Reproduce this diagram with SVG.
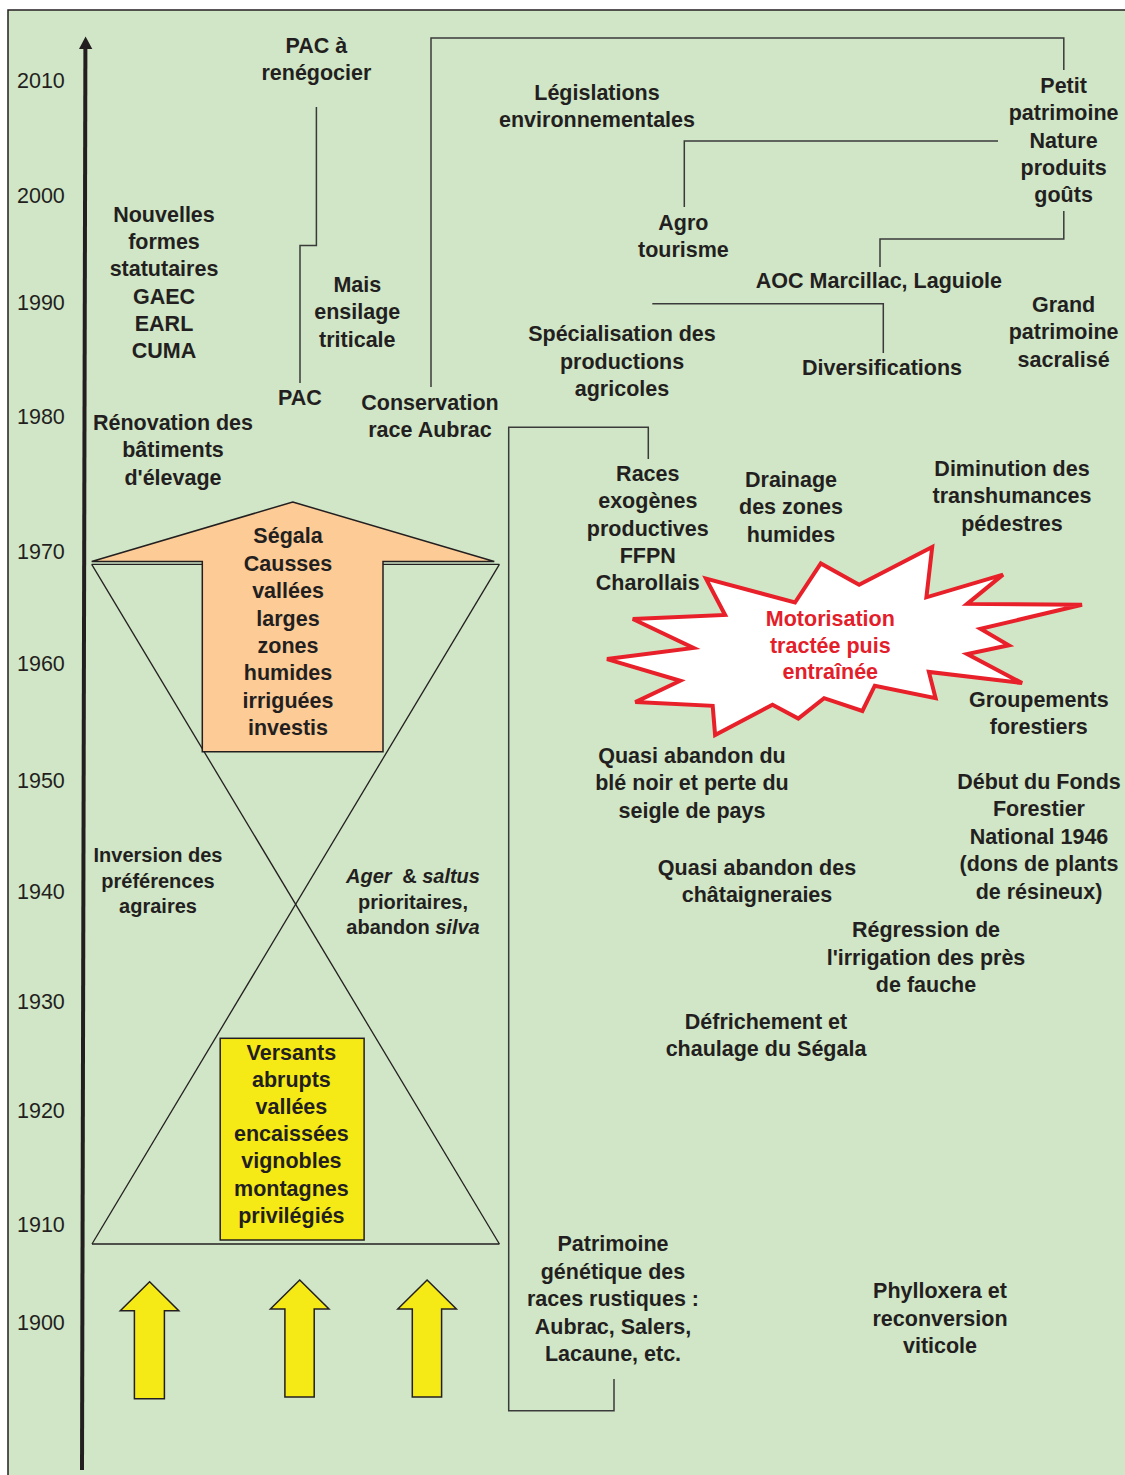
<svg xmlns="http://www.w3.org/2000/svg" width="1125" height="1475" viewBox="0 0 1125 1475">
<style>
text{font-family:"Liberation Sans",Arial,sans-serif;fill:#231f20}
.b{font-weight:bold;font-size:21.5px;text-anchor:middle}
.s{font-weight:bold;font-size:20px;text-anchor:middle}
.yr{font-size:21.5px}
.red{fill:#e3202a}
.i{font-style:italic}
.ln{fill:none;stroke:#3a3a3a;stroke-width:1.5}
.hg{fill:none;stroke:#231f20;stroke-width:1.3}
</style>
<rect x="0" y="0" width="1125" height="1475" fill="#ffffff"/>
<rect x="8" y="10" width="1130" height="1480" fill="#d0e6c6" stroke="#231f20" stroke-width="1.5"/>

<g id="axis">
<line x1="82" y1="1470" x2="85.4" y2="46" stroke="#231f20" stroke-width="4"/>
<polygon points="85.6,36.5 92.3,49 79,49" fill="#231f20"/>
<g id="years">
<text class="yr" x="17" y="88">2010</text>
<text class="yr" x="17" y="203">2000</text>
<text class="yr" x="17" y="310">1990</text>
<text class="yr" x="17" y="424">1980</text>
<text class="yr" x="17" y="559">1970</text>
<text class="yr" x="17" y="671">1960</text>
<text class="yr" x="17" y="788">1950</text>
<text class="yr" x="17" y="899">1940</text>
<text class="yr" x="17" y="1009">1930</text>
<text class="yr" x="17" y="1118">1920</text>
<text class="yr" x="17" y="1232">1910</text>
<text class="yr" x="17" y="1330">1900</text>
</g>
</g>

<g id="connectors">
<polyline class="ln" points="316.4,107 316.4,245.5 300,245.5 300,383"/>
<polyline class="ln" points="431,387 431,38 1063.8,38 1063.8,70"/>
<polyline class="ln" points="684.3,207 684.3,141 998,141"/>
<polyline class="ln" points="1063.8,211 1063.8,239 880,239 880,267"/>
<polyline class="ln" points="652.3,303.7 883.3,303.7 883.3,353"/>
<polyline class="ln" points="648.3,459 648.3,427.3 508.7,427.3 508.7,1410.7 614,1410.7 614,1379"/>
</g>

<g id="hourglass">
<line class="hg" x1="91.7" y1="564.3" x2="499.4" y2="564.3"/>
<line class="hg" x1="91.7" y1="564.3" x2="499.4" y2="1244"/>
<line class="hg" x1="499.4" y1="564.3" x2="92" y2="1244"/>
<line class="hg" x1="92" y1="1244" x2="499.4" y2="1244"/>
</g>

<g id="orange-arrow">
<polygon points="292.7,502 494.3,561.5 383,561.5 383,751.7 202.3,751.7 202.3,561.5 91.7,561.5" fill="#fccb96" stroke="#231f20" stroke-width="1.5"/>
<text class="b"><tspan x="288" y="543.3">Ségala</tspan><tspan x="288" y="570.7">Causses</tspan><tspan x="288" y="598.1">vallées</tspan><tspan x="288" y="625.5">larges</tspan><tspan x="288" y="652.9">zones</tspan><tspan x="288" y="680.3">humides</tspan><tspan x="288" y="707.7">irriguées</tspan><tspan x="288" y="735.1">investis</tspan></text>
</g>

<g id="yellow-box">
<rect x="220.2" y="1038.3" width="143.9" height="201.7" fill="#f6ea16" stroke="#231f20" stroke-width="1.5"/>
<text class="b"><tspan x="291.4" y="1060">Versants</tspan><tspan x="291.4" y="1087.1">abrupts</tspan><tspan x="291.4" y="1114.2">vallées</tspan><tspan x="291.4" y="1141.3">encaissées</tspan><tspan x="291.4" y="1168.4">vignobles</tspan><tspan x="291.4" y="1195.5">montagnes</tspan><tspan x="291.4" y="1222.6">privilégiés</tspan></text>
</g>

<g id="yellow-arrows" fill="#f6ea16" stroke="#231f20" stroke-width="1.5">
<polygon points="149.6,1281.7 178.8,1310.7 164.4,1310.7 164.4,1398.7 134.4,1398.7 134.4,1310.7 120.3,1310.7"/>
<polygon points="299.7,1280 329,1309 314.2,1309 314.2,1397 284.9,1397 284.9,1309 270.4,1309"/>
<polygon points="427.1,1280 456.4,1309 441.6,1309 441.6,1397 412.3,1397 412.3,1309 397.8,1309"/>
</g>

<g id="explosion">
<polygon points="859.1,584.8 932.2,547 926.4,597.3 1003,574.6 967.2,603.9 1082,604.8 980.5,628.8 1008.8,645.3 967.2,654.1 1022.1,683.1 928.9,671.9 935.6,698.2 874.8,685.7 862.4,711 824.1,698.2 798.3,718.6 772.5,704.8 715.1,735 712.7,705.8 635.3,702.1 680.2,680.8 607,659.1 693.5,647.9 632.8,619 725.1,615 706,578.6 795,602.5 820.8,563.4" fill="#ffffff" stroke="#e8202a" stroke-width="4" stroke-linejoin="miter"/>
<text class="b red"><tspan x="830.3" y="626">Motorisation</tspan><tspan x="830.3" y="652.7">tractée puis</tspan><tspan x="830.3" y="679">entraînée</tspan></text>
</g>

<g id="pac-renegocier"><text class="b"><tspan x="316.4" y="53">PAC à</tspan><tspan x="316.4" y="79.5">renégocier</tspan></text></g>
<g id="legislations"><text class="b"><tspan x="597" y="100">Législations</tspan><tspan x="597" y="126.5">environnementales</tspan></text></g>
<g id="petit-patrimoine"><text class="b"><tspan x="1063.6" y="93.3">Petit</tspan><tspan x="1063.6" y="120.4">patrimoine</tspan><tspan x="1063.6" y="147.5">Nature</tspan><tspan x="1063.6" y="174.6">produits</tspan><tspan x="1063.6" y="201.7">goûts</tspan></text></g>
<g id="nouvelles-formes"><text class="b"><tspan x="164" y="221.7">Nouvelles</tspan><tspan x="164" y="249">formes</tspan><tspan x="164" y="276.3">statutaires</tspan><tspan x="164" y="303.6">GAEC</tspan><tspan x="164" y="330.9">EARL</tspan><tspan x="164" y="358.2">CUMA</tspan></text></g>
<g id="agro-tourisme"><text class="b"><tspan x="683.4" y="230">Agro</tspan><tspan x="683.4" y="256.7">tourisme</tspan></text></g>
<g id="aoc"><text class="b" x="878.9" y="288.3">AOC Marcillac, Laguiole</text></g>
<g id="mais"><text class="b"><tspan x="357.3" y="291.7">Mais</tspan><tspan x="357.3" y="319.2">ensilage</tspan><tspan x="357.3" y="346.7">triticale</tspan></text></g>
<g id="grand-patrimoine"><text class="b"><tspan x="1063.6" y="312">Grand</tspan><tspan x="1063.6" y="339.4">patrimoine</tspan><tspan x="1063.6" y="366.8">sacralisé</tspan></text></g>
<g id="specialisation"><text class="b"><tspan x="622" y="341">Spécialisation des</tspan><tspan x="622" y="368.5">productions</tspan><tspan x="622" y="396">agricoles</tspan></text></g>
<g id="diversifications"><text class="b" x="882" y="375">Diversifications</text></g>
<g id="pac"><text class="b" x="300" y="405">PAC</text></g>
<g id="conservation"><text class="b"><tspan x="430" y="410">Conservation</tspan><tspan x="430" y="437">race Aubrac</tspan></text></g>
<g id="renovation"><text class="b"><tspan x="173" y="430">Rénovation des</tspan><tspan x="173" y="457.3">bâtiments</tspan><tspan x="173" y="484.6">d'élevage</tspan></text></g>
<g id="races-exogenes"><text class="b"><tspan x="647.8" y="480.7">Races</tspan><tspan x="647.8" y="508.1">exogènes</tspan><tspan x="647.8" y="535.5">productives</tspan><tspan x="647.8" y="562.9">FFPN</tspan><tspan x="647.8" y="590.3">Charollais</tspan></text></g>
<g id="drainage"><text class="b"><tspan x="791" y="487">Drainage</tspan><tspan x="791" y="514.3">des zones</tspan><tspan x="791" y="541.6">humides</tspan></text></g>
<g id="diminution"><text class="b"><tspan x="1012" y="476">Diminution des</tspan><tspan x="1012" y="503.3">transhumances</tspan><tspan x="1012" y="530.6">pédestres</tspan></text></g>
<g id="groupements"><text class="b"><tspan x="1038.8" y="706.7">Groupements</tspan><tspan x="1038.8" y="733.5">forestiers</tspan></text></g>
<g id="quasi-ble"><text class="b"><tspan x="692" y="763">Quasi abandon du</tspan><tspan x="692" y="790.3">blé noir et perte du</tspan><tspan x="692" y="817.6">seigle de pays</tspan></text></g>
<g id="fonds-forestier"><text class="b"><tspan x="1039" y="789">Début du Fonds</tspan><tspan x="1039" y="816.4">Forestier</tspan><tspan x="1039" y="843.8">National 1946</tspan><tspan x="1039" y="871.2">(dons de plants</tspan><tspan x="1039" y="898.6">de résineux)</tspan></text></g>
<g id="inversion"><text class="s"><tspan x="158" y="862">Inversion des</tspan><tspan x="158" y="887.5">préférences</tspan><tspan x="158" y="913">agraires</tspan></text></g>
<g id="ager-saltus"><text class="s"><tspan x="413" y="882.7"><tspan class="i">Ager</tspan><tspan dx="5"> &amp; </tspan><tspan class="i">saltus</tspan></tspan><tspan x="413" y="908.5">prioritaires,</tspan><tspan x="413" y="934"><tspan>abandon </tspan><tspan class="i">silva</tspan></tspan></text></g>
<g id="quasi-chataigneraies"><text class="b"><tspan x="757" y="875">Quasi abandon des</tspan><tspan x="757" y="902.3">châtaigneraies</tspan></text></g>
<g id="regression"><text class="b"><tspan x="926" y="937">Régression de</tspan><tspan x="926" y="964.5">l'irrigation des près</tspan><tspan x="926" y="992">de fauche</tspan></text></g>
<g id="defrichement"><text class="b"><tspan x="766" y="1029">Défrichement et</tspan><tspan x="766" y="1056.3">chaulage du Ségala</tspan></text></g>
<g id="patrimoine-genetique"><text class="b"><tspan x="613" y="1251">Patrimoine</tspan><tspan x="613" y="1278.5">génétique des</tspan><tspan x="613" y="1306">races rustiques :</tspan><tspan x="613" y="1333.5">Aubrac, Salers,</tspan><tspan x="613" y="1361">Lacaune, etc.</tspan></text></g>
<g id="phylloxera"><text class="b"><tspan x="940" y="1298">Phylloxera et</tspan><tspan x="940" y="1325.5">reconversion</tspan><tspan x="940" y="1353">viticole</tspan></text></g>
</svg>
